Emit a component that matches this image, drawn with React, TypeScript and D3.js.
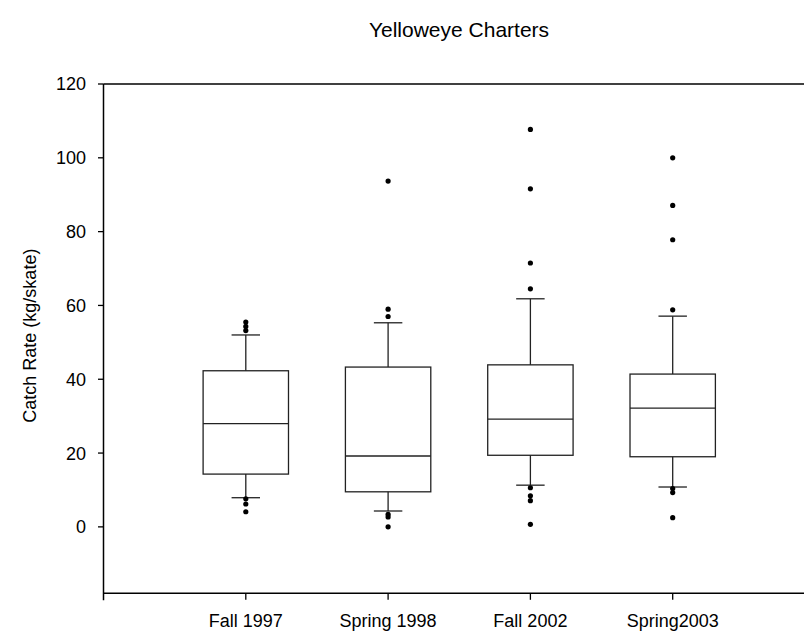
import React from "react";
import * as d3 from "d3";

// Catch rate summaries per survey period (kg/skate)
const categories = ["Fall 1997", "Spring 1998", "Fall 2002", "Spring2003"];
const q1 = [14.3, 9.5, 19.4, 19.0];
const medians = [28.0, 19.2, 29.2, 32.2];
const q3 = [42.3, 43.3, 43.9, 41.4];
const whiskerLow = [7.9, 4.3, 11.3, 10.8];
const whiskerHigh = [52.0, 55.3, 61.8, 57.1];
const outliers = [
  [55.5, 54.3, 53.2, 7.6, 6.2, 4.1],
  [93.7, 59.0, 57.0, 3.4, 2.7, 0.0],
  [107.7, 91.6, 71.5, 64.5, 10.6, 8.4, 7.1, 0.7],
  [100.0, 87.1, 77.8, 58.8, 10.4, 9.3, 2.5],
];
const yTicks = [0, 20, 40, 60, 80, 100, 120];

const W = 804;
const H = 636;
const FONT = "'Liberation Sans', Arial, sans-serif";

export default function App() {
  const left = 103.5;
  const top = 84;
  const bottom = 593.3;

  const x = d3.scaleLinear().domain([0, categories.length + 1]).range([left, 815]);
  const y = d3.scaleLinear().domain([-18, 120]).range([bottom, top]);

  const step = x(1) - x(0);
  const boxW = step * 0.6;
  const capW = step * 0.2;

  return (
    <svg
      width={W}
      height={H}
      style={{ position: "absolute", left: 0, top: 0, background: "#fff" }}
      fontFamily={FONT}
    >
      <text x={459} y={37} fontSize={21} textAnchor="middle" fill="#000">
        Yelloweye Charters
      </text>

      {/* frame: top line, left axis, bottom axis */}
      <line x1={left} x2={W} y1={top} y2={top} stroke="#000" strokeWidth={1.5} />
      <line x1={left} x2={left} y1={top} y2={bottom + 7} stroke="#000" strokeWidth={1.5} />
      <line x1={left} x2={W} y1={bottom} y2={bottom} stroke="#000" strokeWidth={1.5} />

      {yTicks.map((t) => (
        <g key={t}>
          <line x1={left - 5.5} x2={left} y1={y(t)} y2={y(t)} stroke="#000" strokeWidth={1.3} />
          <text
            x={86}
            y={y(t)}
            dy="0.36em"
            fontSize={18}
            textAnchor="end"
            fill="#000"
          >
            {t}
          </text>
        </g>
      ))}

      <text
        transform={`translate(30, ${(top + bottom) / 2 - 3}) rotate(-90)`}
        fontSize={18}
        textAnchor="middle"
        dy="0.36em"
        fill="#000"
      >
        Catch Rate (kg/skate)
      </text>

      {categories.map((c, i) => {
        const cx = x(i + 1);
        return (
          <g key={c}>
            <line x1={cx} x2={cx} y1={bottom} y2={bottom + 6.5} stroke="#000" strokeWidth={1.3} />
            <text x={cx} y={627} fontSize={18} textAnchor="middle" fill="#000">
              {c}
            </text>

            {/* whiskers */}
            <line x1={cx} x2={cx} y1={y(q3[i])} y2={y(whiskerHigh[i])} stroke="#222" strokeWidth={1.3} />
            <line x1={cx} x2={cx} y1={y(q1[i])} y2={y(whiskerLow[i])} stroke="#222" strokeWidth={1.3} />
            <line
              x1={cx - capW / 2}
              x2={cx + capW / 2}
              y1={y(whiskerHigh[i])}
              y2={y(whiskerHigh[i])}
              stroke="#222"
              strokeWidth={1.3}
            />
            <line
              x1={cx - capW / 2}
              x2={cx + capW / 2}
              y1={y(whiskerLow[i])}
              y2={y(whiskerLow[i])}
              stroke="#222"
              strokeWidth={1.3}
            />

            {/* box and median */}
            <rect
              x={cx - boxW / 2}
              y={y(q3[i])}
              width={boxW}
              height={y(q1[i]) - y(q3[i])}
              fill="none"
              stroke="#222"
              strokeWidth={1.3}
            />
            <line
              x1={cx - boxW / 2}
              x2={cx + boxW / 2}
              y1={y(medians[i])}
              y2={y(medians[i])}
              stroke="#222"
              strokeWidth={1.3}
            />

            {outliers[i].map((v, j) => (
              <circle key={j} cx={cx} cy={y(v)} r={2.6} fill="#000" />
            ))}
          </g>
        );
      })}
    </svg>
  );
}
